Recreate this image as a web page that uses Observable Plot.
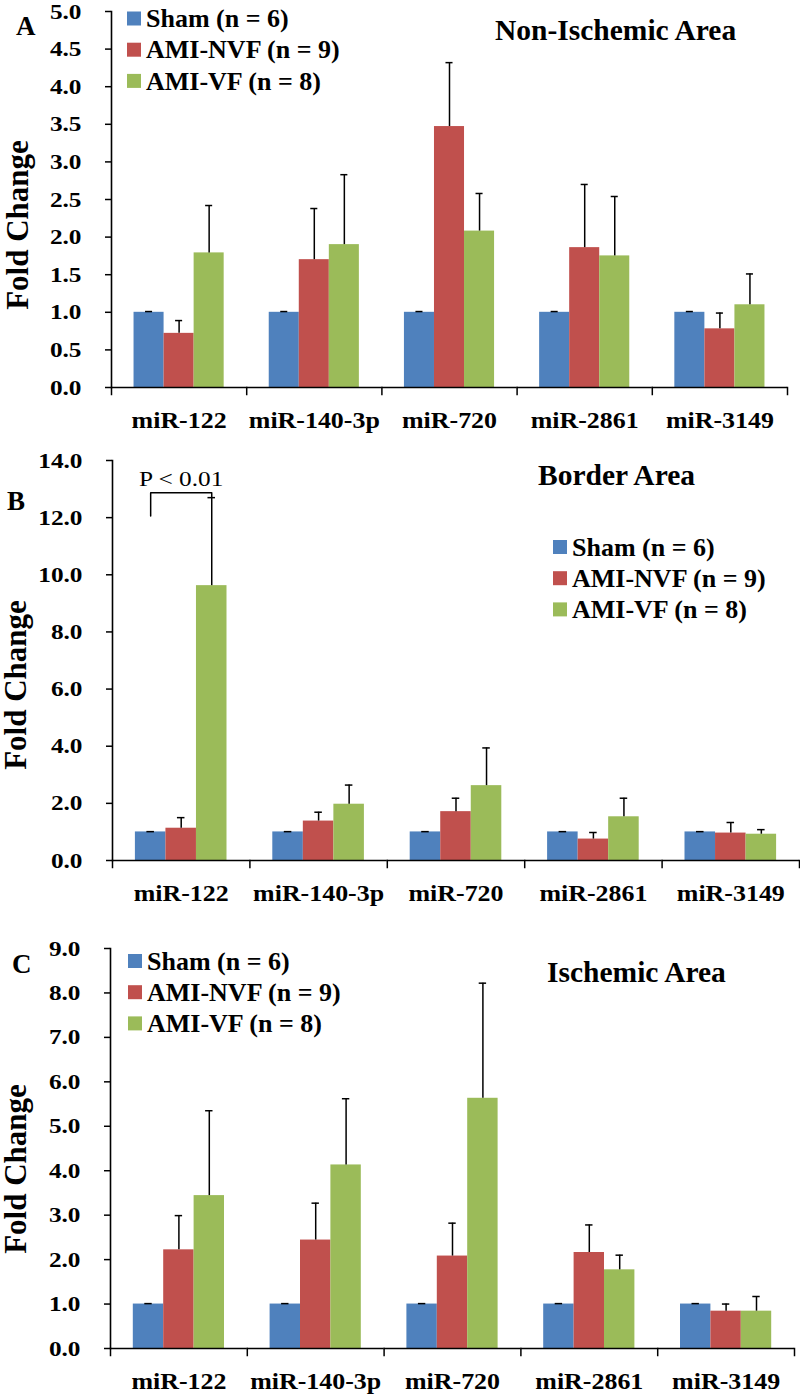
<!DOCTYPE html>
<html><head><meta charset="utf-8">
<script src="https://cdn.jsdelivr.net/npm/d3@7"></script>
<script src="https://cdn.jsdelivr.net/npm/@observablehq/plot@0.6"></script>
<style>
body{margin:0;background:#fff;}
#chart{width:800px;height:1396px;position:relative;background:#fff;}
svg{display:block;}
</style></head><body><div id="chart"></div>
<script>
// ---------- data ----------
const categories = ["miR-122", "miR-140-3p", "miR-720", "miR-2861", "miR-3149"];
const groups = ["Sham (n = 6)", "AMI-NVF (n = 9)", "AMI-VF (n = 8)"];
const groupColors = ["#4F81BD", "#C0504D", "#9BBB59"];

// Panel A: Non-Ischemic Area (mean, SEM)
const nonIschemicSham = [1.00, 1.00, 1.00, 1.00, 1.00];
const nonIschemicShamErr = [0.01, 0.01, 0.01, 0.01, 0.01];
const nonIschemicNVF = [0.72, 1.70, 3.47, 1.86, 0.78];
const nonIschemicNVFErr = [0.17, 0.68, 0.85, 0.84, 0.21];
const nonIschemicVF = [1.79, 1.90, 2.08, 1.75, 1.10];
const nonIschemicVFErr = [0.63, 0.93, 0.50, 0.79, 0.41];
const nonIschemicTicks = [0, 0.5, 1.0, 1.5, 2.0, 2.5, 3.0, 3.5, 4.0, 4.5, 5.0];

// Panel B: Border Area
const borderSham = [1.00, 1.00, 1.00, 1.00, 1.00];
const borderShamErr = [0.01, 0.01, 0.01, 0.01, 0.01];
const borderNVF = [1.13, 1.38, 1.71, 0.75, 0.96];
const borderNVFErr = [0.37, 0.31, 0.47, 0.23, 0.37];
const borderVF = [9.62, 1.97, 2.62, 1.53, 0.92];
const borderVFErr = [3.08, 0.67, 1.32, 0.65, 0.16];
const borderTicks = [0, 2, 4, 6, 8, 10, 12, 14];
const borderBracketGroups = ["Sham (n = 6)", "Sham (n = 6)", "AMI-VF (n = 8)", "AMI-VF (n = 8)"];
const borderBracketY = [12.06, 12.87, 12.87, 12.72];
const borderPLabel = "P < 0.01";
const borderPY = 13.36;

// Panel C: Ischemic Area
const ischemicSham = [1.00, 1.00, 1.00, 1.00, 1.00];
const ischemicShamErr = [0.01, 0.01, 0.01, 0.01, 0.01];
const ischemicNVF = [2.22, 2.44, 2.08, 2.16, 0.84];
const ischemicNVFErr = [0.77, 0.83, 0.74, 0.62, 0.16];
const ischemicVF = [3.44, 4.13, 5.63, 1.77, 0.84];
const ischemicVFErr = [1.91, 1.49, 2.59, 0.33, 0.33];
const ischemicTicks = [0, 1, 2, 3, 4, 5, 6, 7, 8, 9];

// ---------- helpers ----------
function buildRows(means, errs) {
  const rows = [];
  categories.forEach((mir, i) => {
    groups.forEach((g, j) => rows.push({mir, group: g, mean: means[j][i], err: errs[j][i]}));
  });
  return rows;
}
function stretch(svg, selector, f) {
  svg.querySelectorAll(selector).forEach(t => {
    const w = t.getComputedTextLength();
    if (w > 0) {
      t.setAttribute("textLength", (w * f).toFixed(2));
      t.setAttribute("lengthAdjust", "spacingAndGlyphs");
    }
  });
}
const FONT = "'Liberation Serif', 'Times New Roman', serif";
const container = document.getElementById("chart");

function panel(cfg) {
  const data = buildRows(cfg.means, cfg.errs);
  const innerH = cfg.height - cfg.mt - cfg.mb;
  const black = "#000";
  const marks = [
    Plot.barY(data, {fx: "mir", x: "group", y: "mean", fill: "group"}),
    Plot.ruleX(data, {fx: "mir", x: "group", y1: "mean", y2: d => d.mean + d.err, stroke: black, strokeWidth: 1.5}),
    Plot.tickY(data, {fx: "mir", x: "group", y: d => d.mean + d.err, stroke: black, strokeWidth: 1.5, insetLeft: 11.5, insetRight: 11.5}),
    Plot.ruleY([0], {stroke: black, strokeWidth: 1.6}),
    Plot.frame({anchor: "left", facetAnchor: "left", stroke: black, strokeWidth: 1.6}),
    Plot.frame({anchor: "left", insetTop: innerH, insetBottom: -7, stroke: black, strokeWidth: 1.5}),
    Plot.frame({anchor: "right", facetAnchor: "right", insetTop: innerH, insetBottom: -7, stroke: black, strokeWidth: 1.5}),
    Plot.axisY({ticks: cfg.ticks, tickFormat: d3.format(".1f"), tickSize: 6, tickPadding: 24, fontSize: 22, fontWeight: "bold", strokeWidth: 1.5, label: null}),
    Plot.axisFx({anchor: "bottom", tickSize: 0, tickPadding: 23, fontSize: 24, fontWeight: "bold", label: null}),
    ...(cfg.extra || [])
  ];
  const svg = Plot.plot({
    width: 800,
    height: cfg.height,
    marginTop: cfg.mt,
    marginBottom: cfg.mb,
    marginLeft: cfg.ml,
    marginRight: cfg.mr,
    style: {fontFamily: FONT, fontSize: "22px", color: "#000", background: "#fff", overflow: "visible"},
    fx: {domain: categories, paddingInner: 0, paddingOuter: 0, round: false, label: null},
    x: {domain: groups, paddingInner: 0, paddingOuter: 0.75, round: false, axis: null},
    y: {domain: cfg.domain, axis: null},
    color: {domain: groups, range: groupColors},
    marks
  });
  container.appendChild(svg);
  stretch(svg, 'g[aria-label="y-axis tick label"] text', 1.15);
  stretch(svg, 'g[aria-label="fx-axis tick label"] text', 1.08);
  stretch(svg, 'g[aria-label="text"] text', 1.15);

  const s = d3.select(svg);
  const g = s.append("g").attr("font-family", FONT).attr("fill", "#000").attr("text-anchor", "start");
  g.append("text").attr("x", cfg.letter[0]).attr("y", cfg.letter[1]).attr("text-anchor", "start")
    .attr("font-size", 27).attr("font-weight", "bold").text(cfg.letterText);
  g.append("text").attr("x", cfg.titlePos[0]).attr("y", cfg.titlePos[1]).attr("text-anchor", "start")
    .attr("font-size", 29.5).attr("font-weight", "bold").text(cfg.title);
  g.append("text")
    .attr("transform", `translate(${cfg.ylab[0]},${cfg.ylab[1]}) rotate(-90)`)
    .attr("text-anchor", "middle").attr("dy", "0.23em")
    .attr("font-size", 31).attr("font-weight", "bold").text("Fold Change");
  const lg = g.append("g");
  groups.forEach((name, j) => {
    const cy = cfg.legend[1] + j * 31.2;
    lg.append("rect").attr("x", cfg.legend[0]).attr("y", cy - 7).attr("width", 14).attr("height", 14)
      .attr("fill", groupColors[j]);
    lg.append("text").attr("x", cfg.legend[0] + 19).attr("y", cy + 8.6).attr("text-anchor", "start")
      .attr("font-size", 26).attr("font-weight", "bold").text(name);
  });
}

panel({
  means: [nonIschemicSham, nonIschemicNVF, nonIschemicVF],
  errs: [nonIschemicShamErr, nonIschemicNVFErr, nonIschemicVFErr],
  ticks: nonIschemicTicks, domain: [0, 5],
  height: 440, mt: 11, mb: 53, ml: 111, mr: 13,
  letterText: "A", letter: [16, 35],
  title: "Non-Ischemic Area", titlePos: [495, 40],
  ylab: [21, 225],
  legend: [127, 18.5]
});

panel({
  means: [borderSham, borderNVF, borderVF],
  errs: [borderShamErr, borderNVFErr, borderVFErr],
  ticks: borderTicks, domain: [0, 14],
  height: 475, mt: 20, mb: 55, ml: 112, mr: 1,
  letterText: "B", letter: [7, 70],
  title: "Border Area", titlePos: [538, 45],
  ylab: [19, 245],
  legend: [553, 107],
  extra: [
    Plot.line(borderBracketGroups.map((g, i) => ({mir: categories[0], group: g, y: borderBracketY[i]})),
      {fx: "mir", x: "group", y: "y", stroke: "#000", strokeWidth: 1.5}),
    Plot.text([{mir: categories[0], group: groups[1], y: borderPY, label: borderPLabel}],
      {fx: "mir", x: "group", y: "y", text: "label", fontSize: 22, fontWeight: "normal"})
  ]
});

panel({
  means: [ischemicSham, ischemicNVF, ischemicVF],
  errs: [ischemicShamErr, ischemicNVFErr, ischemicVFErr],
  ticks: ischemicTicks, domain: [0, 9],
  height: 481, mt: 33, mb: 48, ml: 110, mr: 6,
  letterText: "C", letter: [12, 58],
  title: "Ischemic Area", titlePos: [547, 67],
  ylab: [19, 254],
  legend: [128, 46]
});
</script></body></html>
